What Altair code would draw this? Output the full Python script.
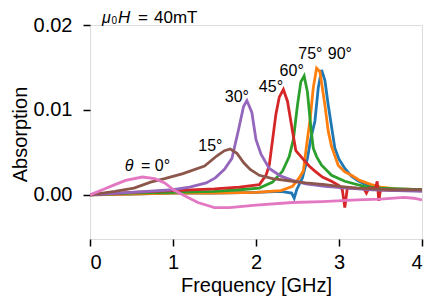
import altair as alt
import pandas as pd

# ---- data ----
series_names = ["90°", "75°", "60°", "45°", "30°", "15°", "0°"]
colors = ["#1f77b4", "#ff7f0e", "#2ca02c", "#d62728", "#9467bd", "#8c564b", "#e377c2"]

f90 = [0, 0.5, 1.0, 1.5, 2.0, 2.3, 2.43, 2.46, 2.49, 2.56, 2.62, 2.66, 2.71, 2.75, 2.79, 2.83, 2.87, 2.95, 3.0, 3.07, 3.15, 3.22, 3.3, 3.4, 3.6, 4.0]
a90 = [0, 0.0001, 0.0002, 0.0002, 0.0003, 0.0004, 0.0002, -0.0004, 0.0006, 0.002, 0.0043, 0.0066, 0.0087, 0.0126, 0.0147, 0.0135, 0.0106, 0.0055, 0.0042, 0.0031, 0.0022, 0.0017, 0.0013, 0.001, 0.0007, 0.0006]

f75 = [0, 0.5, 1.0, 1.5, 2.0, 2.3, 2.44, 2.52, 2.57, 2.62, 2.65, 2.69, 2.73, 2.77, 2.83, 2.87, 2.91, 2.99, 3.07, 3.15, 3.25, 3.39, 3.5, 3.7, 4.0]
a75 = [0, 0.0001, 0.0002, 0.0002, 0.0003, 0.0005, 0.001, 0.002, 0.0028, 0.0066, 0.0087, 0.0126, 0.0149, 0.0145, 0.0106, 0.0075, 0.0057, 0.0035, 0.0027, 0.0023, 0.0017, 0.0012, 0.0009, 0.0007, 0.0006]

f60 = [0, 0.5, 1.0, 1.5, 1.8, 2.04, 2.2, 2.32, 2.4, 2.45, 2.5, 2.54, 2.58, 2.62, 2.66, 2.69, 2.73, 2.79, 2.91, 3.07, 3.3, 3.5, 3.7, 4.0]
a60 = [0, 0.0002, 0.0003, 0.0004, 0.0006, 0.0008, 0.0015, 0.0028, 0.0045, 0.0065, 0.0106, 0.0133, 0.014, 0.0121, 0.008, 0.0055, 0.0045, 0.0035, 0.0023, 0.0016, 0.001, 0.0008, 0.0007, 0.0006]

f45 = [0, 0.5, 1.0, 1.5, 1.8, 2.04, 2.12, 2.16, 2.2, 2.24, 2.28, 2.33, 2.38, 2.44, 2.48, 2.56, 2.64, 2.71, 2.8, 2.91, 3.0, 3.04, 3.07, 3.1, 3.2, 3.3, 3.33, 3.36, 3.44, 3.46, 3.48, 3.5, 3.7, 4.0]
a45 = [0, 0.0003, 0.0005, 0.0007, 0.0009, 0.0012, 0.0023, 0.0035, 0.0065, 0.0095, 0.0115, 0.0124, 0.011, 0.0075, 0.0052, 0.0043, 0.0034, 0.0028, 0.0021, 0.0016, 0.0011, 0.0006, -0.0015, 0.0008, 0.0008, 0.0007, 0.0002, 0.0008, 0.0008, 0.0016, -0.0007, 0.0006, 0.0005, 0.0005]

f30 = [0, 0.5, 1.0, 1.2, 1.4, 1.51, 1.62, 1.71, 1.79, 1.85, 1.89, 1.95, 2.0, 2.06, 2.16, 2.3, 2.44, 2.6, 2.83, 3.1, 3.4, 3.7, 4.0]
a30 = [0, 0.0003, 0.0006, 0.0009, 0.0014, 0.002, 0.003, 0.0043, 0.0077, 0.0104, 0.0111, 0.0097, 0.0065, 0.0048, 0.0031, 0.0022, 0.0017, 0.0013, 0.001, 0.0008, 0.0006, 0.0005, 0.0004]

f15 = [0, 0.3, 0.53, 0.73, 0.9, 1.12, 1.38, 1.53, 1.62, 1.69, 1.77, 1.85, 1.93, 2.04, 2.2, 2.44, 2.6, 2.83, 3.0, 3.22, 3.62, 4.0]
a15 = [0, 0.0004, 0.0008, 0.0015, 0.0019, 0.0025, 0.0034, 0.0046, 0.0052, 0.0054, 0.0049, 0.0038, 0.003, 0.0023, 0.0019, 0.0016, 0.0014, 0.0012, 0.001, 0.0008, 0.0006, 0.0006]

f0 = [0, 0.15, 0.3, 0.43, 0.63, 0.78, 0.9, 1.02, 1.14, 1.3, 1.5, 1.68, 2.0, 2.44, 2.8, 3.22, 3.5, 3.78, 3.9, 4.0]
a0 = [0, 0.0006, 0.0012, 0.0017, 0.0021, 0.0019, 0.0014, 0.0005, -0.0001, -0.0009, -0.0015, -0.0015, -0.0012, -0.0009, -0.0008, -0.0006, -0.0005, -0.0003, -0.0004, -0.0006]

freqs = [f90, f75, f60, f45, f30, f15, f0]
absorb = [a90, a75, a60, a45, a30, a15, a0]

# curve labels (data coordinates)
ann_labels = ["30°", "15°", "45°", "60°", "75°", "90°", "= 0°"]
ann_f = [1.77, 1.45, 2.18, 2.43, 2.655, 3.01, 0.79]
ann_a = [0.01156, 0.0058, 0.0127, 0.01457, 0.01653, 0.01653, 0.00335]
theta_label = ["θ"]
theta_f = [0.47]
theta_a = [0.00335]

x_ticks = [0, 1, 2, 3, 4]
y_ticks = [0.0, 0.01, 0.02]

FONT = "Liberation Sans"
W, H = 332, 214

xscale = alt.Scale(domain=[0, 4], nice=False, zero=False)
yscale = alt.Scale(domain=[-0.0052, 0.02], nice=False, zero=False)

xaxis = alt.Axis(values=x_ticks, format="d", title="Frequency [GHz]", grid=False, domain=False,
                 tickSize=7, tickWidth=1.5, tickColor="black",
                 labelBaseline="alphabetic", labelPadding=22.5,
                 labelFontSize=20, labelColor="black", labelFont=FONT,
                 titleFontSize=20, titleFontWeight="normal", titleColor="black", titleFont=FONT,
                 titleBaseline="alphabetic", titleX=W / 2, titleY=52)
yaxis = alt.Axis(values=y_ticks, format=".2f", title="Absorption", grid=False, domain=False,
                 tickSize=7, tickWidth=1.5, tickColor="black", labelPadding=11,
                 labelFontSize=20, labelColor="black", labelFont=FONT,
                 titleFontSize=20, titleFontWeight="normal", titleColor="black", titleFont=FONT,
                 titleBaseline="alphabetic", titleAngle=270, titleAlign="center",
                 titleX=-63.5, titleY=H / 2 + 2)

layers = []
for name, col, fs, vs in zip(series_names, colors, freqs, absorb):
    df = pd.DataFrame({"f": fs, "a": vs, "s": [name] * len(fs)})
    layers.append(
        alt.Chart(df).mark_line(color=col, strokeWidth=2.8, clip=True).encode(
            x=alt.X("f:Q", scale=xscale, axis=xaxis),
            y=alt.Y("a:Q", scale=yscale, axis=yaxis),
        )
    )

ann_df = pd.DataFrame({"f": ann_f, "a": ann_a, "t": ann_labels})
ann = alt.Chart(ann_df).mark_text(fontSize=16, font=FONT, color="black", baseline="middle").encode(
    x=alt.X("f:Q", scale=xscale), y=alt.Y("a:Q", scale=yscale), text="t:N")

theta_df = pd.DataFrame({"f": theta_f, "a": theta_a, "t": theta_label})
theta = alt.Chart(theta_df).mark_text(fontSize=16, font=FONT, color="black", baseline="middle",
                                     fontStyle="italic").encode(
    x=alt.X("f:Q", scale=xscale), y=alt.Y("a:Q", scale=yscale), text="t:N")

# title  "μ0H = 40mT"
title_df = pd.DataFrame({"mu": ["μ"], "sub": ["0"], "h": ["H"], "eq": ["="], "rest": ["40mT"]})
tbase = alt.Chart(title_df)
t_mu = tbase.mark_text(fontSize=16, font=FONT, fontStyle="italic", color="black", align="left",
                       baseline="alphabetic").encode(x=alt.value(12), y=alt.value(-2.5), text="mu:N")
t_sub = tbase.mark_text(fontSize=10, font=FONT, color="black", align="left",
                        baseline="alphabetic").encode(x=alt.value(21.5), y=alt.value(-1.3), text="sub:N")
t_h = tbase.mark_text(fontSize=17, font=FONT, fontStyle="italic", color="black", align="left",
                      baseline="alphabetic").encode(x=alt.value(28), y=alt.value(-1.6), text="h:N")
t_eq = tbase.mark_text(fontSize=17, font=FONT, color="black", align="left",
                       baseline="alphabetic").encode(x=alt.value(48), y=alt.value(-1.6), text="eq:N")
t_rest = tbase.mark_text(fontSize=17, font=FONT, color="black", align="left",
                         baseline="alphabetic").encode(x=alt.value(64), y=alt.value(-1.6), text="rest:N")

chart = alt.layer(*layers, ann, theta, t_mu, t_sub, t_h, t_eq, t_rest).properties(
    width=W, height=H,
    autosize=alt.AutoSizeParams(type="none"),
    padding={"left": 82, "top": 17, "right": 6, "bottom": 57},
).configure_view(stroke="black", strokeWidth=1.6).configure(font=FONT)

chart.save("out.html", embed_options={"renderer": "svg", "actions": False})
